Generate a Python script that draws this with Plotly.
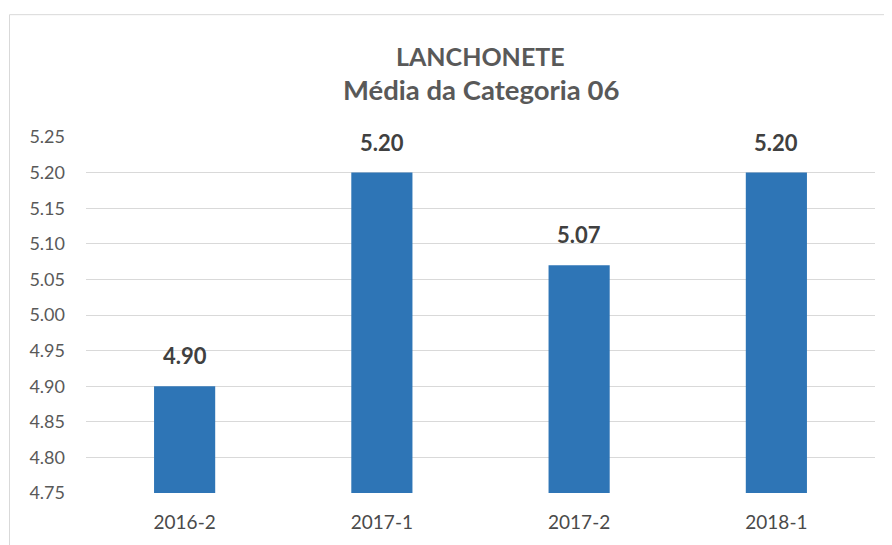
import plotly.graph_objects as go

categories = ["2016-2", "2017-1", "2017-2", "2018-1"]
values = [4.90, 5.20, 5.07, 5.20]
labels = ["4.90", "5.20", "5.07", "5.20"]
tick_vals = [4.75, 4.80, 4.85, 4.90, 4.95, 5.00, 5.05, 5.10, 5.15, 5.20, 5.25]
title_line1 = "LANCHONETE"
title_line2 = "Média da Categoria 06"

FONT = "Lato, 'Liberation Sans', sans-serif"

# page has an 8px body margin; size the figure so it fits the window
OFF = 8
W, H = 892 - OFF, 545 - OFF
ml, mr, mt, mb = 86 - OFF, 17, 137 - OFF, 50
pw, ph = W - ml - mr, H - mt - mb


def py(px):
    """reference pixel row -> paper y"""
    return 1 - (px - OFF - mt) / ph


def px_(x):
    """reference pixel column -> paper x"""
    return (x - OFF - ml) / pw


fig = go.Figure()
fig.add_trace(go.Bar(
    x=categories, y=values,
    marker=dict(color="#2E75B6", line=dict(width=0)),
    hoverinfo="skip",
))

annotations = [
    dict(x=c, y=v, xref="x", yref="y", text=f"<b>{t}</b>", showarrow=False,
         yanchor="bottom", yshift=15,
         font=dict(family=FONT, size=22, color="#404040"))
    for c, v, t in zip(categories, values, labels)
]
annotations += [
    dict(x=0.5, y=py(56), xref="paper", yref="paper", text=f"<b>{title_line1}</b>",
         showarrow=False, xanchor="center", yanchor="middle",
         font=dict(family=FONT, size=25, color="#595959")),
    dict(x=0.5, y=py(89), xref="paper", yref="paper", text=f"<b>{title_line2}</b>",
         showarrow=False, xanchor="center", yanchor="middle",
         font=dict(family=FONT, size=27.5, color="#595959")),
]

fig.update_layout(
    width=W, height=H,
    margin=dict(l=ml, r=mr, t=mt, b=mb),
    paper_bgcolor="white", plot_bgcolor="white",
    bargap=0.69,
    showlegend=False,
    font=dict(family=FONT, color="#595959"),
    xaxis=dict(
        type="category",
        showgrid=False, showline=False, ticks="",
        tickfont=dict(family=FONT, size=19, color="#4a4a4a"),
        ticklabelstandoff=16,
    ),
    yaxis=dict(
        range=[4.75, 5.25], tickvals=tick_vals,
        ticktext=[f"{t:.2f}" for t in tick_vals],
        showgrid=True, gridcolor="#D9D9D9", gridwidth=1,
        zeroline=False, showline=False, ticks="",
        tickfont=dict(family=FONT, size=18, color="#595959"),
        ticklabelstandoff=20,
    ),
    annotations=annotations,
    shapes=[dict(
        type="rect", xref="paper", yref="paper",
        x0=px_(9.5), x1=px_(920),
        y0=py(570), y1=py(14),
        line=dict(color="#D9D9D9", width=1), fillcolor="rgba(0,0,0,0)",
        layer="below",
    )],
)

fig.write_html("out.html")
